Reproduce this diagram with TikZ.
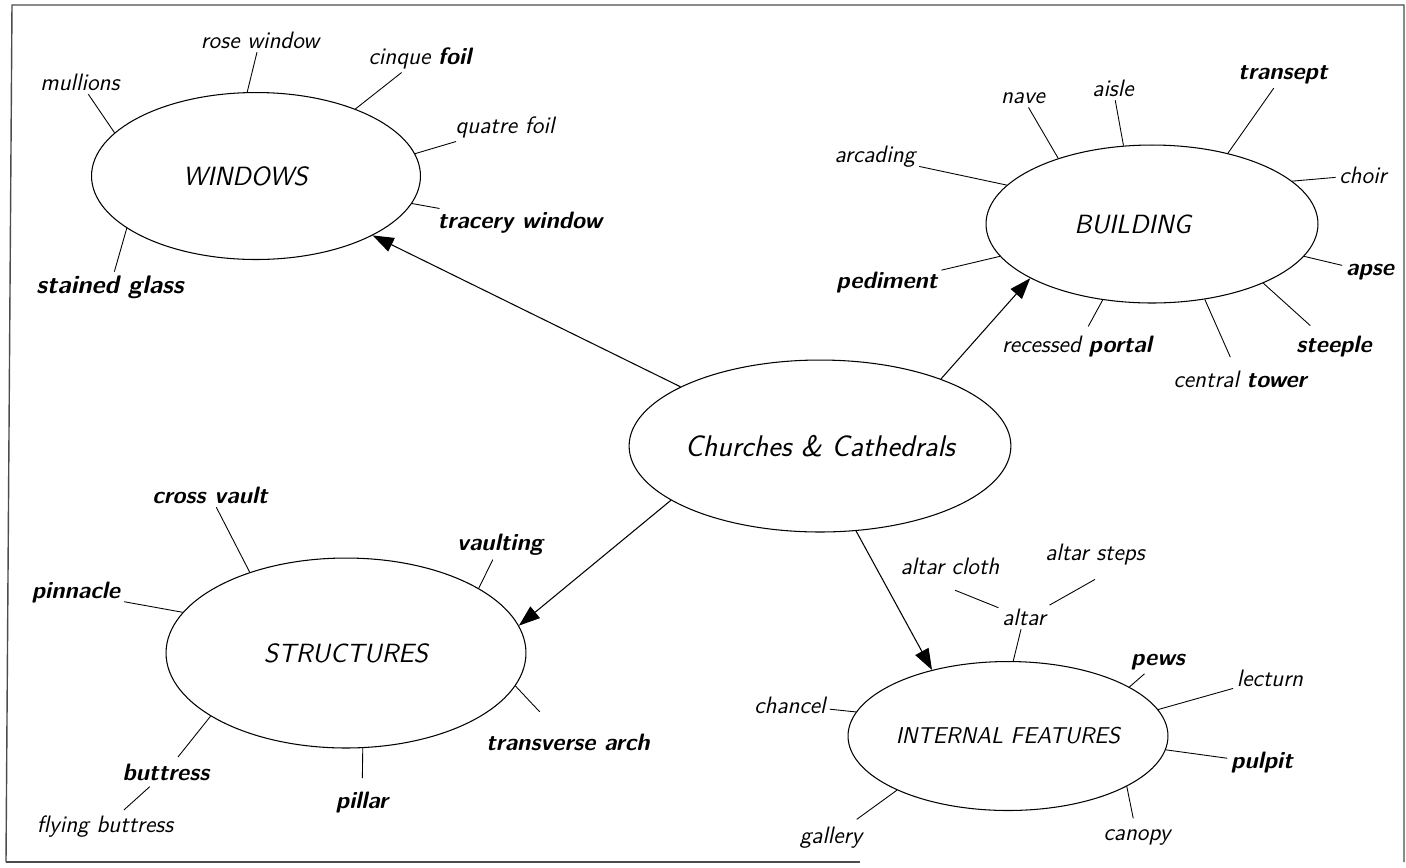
\documentclass[tikz,border=0pt]{standalone}
\usetikzlibrary{shapes.geometric,arrows.meta}

\tikzset{
  hub/.style={ellipse, draw, line width=0.6pt, inner sep=0pt,
    font=\sffamily\itshape\fontsize{15}{17}\selectfont},
  lbl/.style={font=\sffamily\itshape\fontsize{13.5}{15}\selectfont, inner sep=2pt},
  blbl/.style={lbl, font=\sffamily\itshape\bfseries\fontsize{13.5}{15}\selectfont},
  spoke/.style={line width=0.5pt},
  link/.style={line width=0.6pt, -{Triangle[length=12pt,width=8.5pt]}},
  frame/.style={black!70, line width=0.8pt},
}

\begin{document}
\begin{tikzpicture}[x=0.02cm,y=-0.02cm]
    \useasboundingbox (0,0) rectangle (1406,867);

    % page frame
    \draw[frame] (6,862) -- (12,5) -- (1404,5) -- (1404,862);
    \draw[frame] (6,862) -- (860,862);

    % main topic and the four groups
    \node[hub, minimum width=6.72cm, minimum height=3.44cm,
          font=\sffamily\itshape\fontsize{17}{19}\selectfont] (cc) at (820,446) {Churches \& Cathedrals};
    \node[hub, minimum width=6.58cm, minimum height=3.34cm] (win) at (256,176) {\hspace*{-12pt}WINDOWS};
    \node[hub, minimum width=6.64cm, minimum height=3.16cm] (bld) at (1152,224) {\hspace*{-22pt}BUILDING};
    \node[hub, minimum width=7.2cm, minimum height=3.8cm] (str) at (346,653) {STRUCTURES};
    \node[hub, minimum width=6.4cm, minimum height=2.98cm,
          font=\sffamily\itshape\fontsize{13}{15}\selectfont] (int) at (1008,736) {INTERNAL FEATURES};

    % arrows out of the main topic
    \draw[link] (cc.157) -- (win.-27);
    \draw[link] (cc.29) -- (bld.204);
    \draw[link] (cc.200) -- (str.9);
    \draw[link] (cc.-67) -- (int.139);

    % windows
    \node[lbl] (mullions) at (80,82) {mullions};
    \node[lbl] (rosewin) at (260,40) {rose window};
    \node[lbl] (cinque) at (420,58) {cinque \textbf{foil}};
    \node[lbl] (quatre) at (505,127) {quatre foil};
    \node[blbl] (tracery) at (520,223) {tracery window};
    \node[blbl, font=\sffamily\itshape\bfseries\fontsize{14.5}{16}\selectfont] (stained) at (110,287) {stained glass};
    \draw[spoke] (mullions) -- (win.163);
    \draw[spoke] (rosewin) -- (win.96);
    \draw[spoke] (cinque) -- (win.34);
    \draw[spoke] (quatre) -- (win.8);
    \draw[spoke] (tracery) -- (win.-10);
    \draw[spoke] (stained) -- (win.202);

    % building
    \node[lbl] (nave) at (1023,98) {nave};
    \node[lbl] (aisle) at (1113,88) {aisle};
    \node[blbl] (transept) at (1283,75) {transept};
    \node[lbl] (arcading) at (875,157) {arcading};
    \node[lbl] (choir) at (1363,175) {choir};
    \node[blbl] (apse) at (1370,272) {apse};
    \node[blbl] (pediment) at (887,283) {pediment};
    \node[lbl] (portal) at (1077,347) {recessed \textbf{portal}};
    \node[lbl] (tower) at (1240,379) {central \textbf{tower}};
    \node[blbl] (steeple) at (1334,347) {steeple};
    \draw[spoke] (nave) -- (bld.145);
    \draw[spoke] (aisle) -- (bld.110);
    \draw[spoke] (transept) -- (bld.43);
    \draw[spoke] (arcading) -- (bld.165);
    \draw[spoke] (choir) -- (bld.17);
    \draw[spoke] (apse) -- (bld.-12);
    \draw[spoke] (pediment) -- (bld.192);
    \draw[spoke, shorten <=4pt] (portal) -- (bld.237);
    \draw[spoke, shorten <=6pt] (tower) -- (bld.-55);
    \draw[spoke, shorten <=6pt] (steeple) -- (bld.-28);

    % structures
    \node[blbl] (crossvault) at (210,495) {cross vault};
    \node[blbl] (vaulting) at (500,545) {vaulting};
    \node[blbl] (pinnacle) at (76,593) {pinnacle};
    \node[blbl] (transarch) at (568,742) {transverse arch};
    \node[blbl] (buttress) at (166,772) {buttress};
    \node[lbl] (flying) at (105,827) {flying buttress};
    \node[blbl] (pillar) at (362,803) {pillar};
    \draw[spoke] (crossvault) -- (str.140);
    \draw[spoke] (vaulting) -- (str.26);
    \draw[spoke] (pinnacle) -- (str.166);
    \draw[spoke, shorten <=14pt] (transarch) -- (str.-11);
    \draw[spoke, shorten <=2pt] (buttress) -- (str.205);
    \draw[spoke, shorten <=2pt, shorten >=2pt] (flying) -- (buttress);
    \draw[spoke, shorten <=6pt] (pillar) -- (str.-80);

    % internal features
    \node[lbl] (cloth) at (950,566) {altar cloth};
    \node[lbl] (altarsteps) at (1095,555) {altar steps};
    \node[lbl] (altar) at (1024,617) {altar};
    \node[lbl] (chancel) at (790,705) {chancel};
    \node[blbl] (pews) at (1158,662) {pews};
    \node[lbl] (lecturn) at (1270,678) {lecturn};
    \node[blbl] (pulpit) at (1262,763) {pulpit};
    \node[lbl] (gallery) at (831,838) {gallery};
    \node[lbl] (canopy) at (1137,837) {canopy};
    \draw[spoke] ([shift={(5,12)}]cloth.south) -- (altar.160);
    \draw[spoke] ([shift={(0,10)}]altarsteps.south) -- (altar.25);
    \draw[spoke] (altar) -- (int.86);
    \draw[spoke] (chancel) -- (int.171);
    \draw[spoke] (pews) -- (int.22);
    \draw[spoke] (lecturn) -- (int.10);
    \draw[spoke] (pulpit) -- (int.-5);
    \draw[spoke, shorten <=4pt] (gallery) -- (int.206);
    \draw[spoke, shorten <=4pt] (canopy) -- (int.-23);
\end{tikzpicture}
\end{document}
